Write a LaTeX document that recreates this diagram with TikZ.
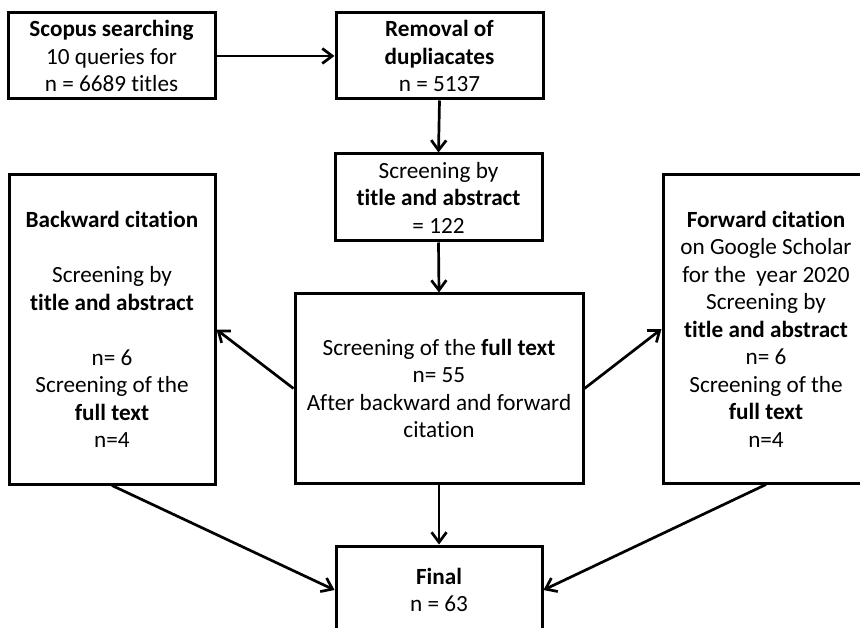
\documentclass[tikz,border=0pt]{standalone}
\usepackage{fontspec}
\setmainfont{Carlito}[Ligatures=CommonOff]
\usetikzlibrary{arrows.meta}
\begin{document}
\begin{tikzpicture}[x=1pt,y=-1pt,
  box/.style={draw=black, line width=3pt, align=center, inner sep=0pt,
    font=\fontsize{23.2}{27.5}\selectfont, text=black},
  arr/.style={draw=black, line width=2.7pt,
    -{Straight Barb[length=10pt,width=15pt,line width=2.7pt]}}]
\useasboundingbox (0,0) rectangle (860,628);
\clip (0,0) rectangle (860,628);
\fill[white] (0,0) rectangle (860,628);

\node[box, minimum width=207pt, minimum height=86pt] (A) at (111.5,56)
  {\textbf{Scopus searching}\\10 queries for\\n = 6689 titles};
\node[box, minimum width=207pt, minimum height=86pt] (B) at (439.5,56)
  {\textbf{Removal of}\\\textbf{dupliacates}\\n = 5137};
\node[box, minimum width=207pt, minimum height=87pt] (C) at (438.5,197.5)
  {Screening by\\\textbf{title and abstract}\\= 122};
\node[box, minimum width=206pt, minimum height=309pt] (L) at (112,329.5)
  {\textbf{Backward citation}\\[27.5pt]Screening by\\\textbf{title and abstract}\\[27.5pt]n= 6\\Screening of the\\\textbf{full text}\\n=4};
\node[box, minimum width=206pt, minimum height=308pt] (R) at (766,329)
  {\textbf{Forward citation}\\on Google Scholar\\for the\ \ year 2020\\Screening by\\\textbf{title and abstract}\\n= 6\\Screening of the\\\textbf{full text}\\n=4};
\node[box, minimum width=288pt, minimum height=189pt] (M) at (439,388.5)
  {Screening of the \textbf{full text}\\n= 55\\After backward and forward\\citation};
\node[box, minimum width=206pt, minimum height=88pt] (F) at (439,590)
  {\textbf{Final}\\n = 63};

\draw[arr] (A.east) -- (B.west);
\draw[arr] (B.south) -- (C.north);
\draw[arr] (C.south) -- (M.north);
\draw[arr] (M.west) -- (L.east);
\draw[arr] (M.east) -- (R.west);
\draw[arr] (M.south) -- (F.north);
\draw[arr] (L.south) -- (F.west);
\draw[arr] (R.south) -- (F.east);
\end{tikzpicture}
\end{document}
